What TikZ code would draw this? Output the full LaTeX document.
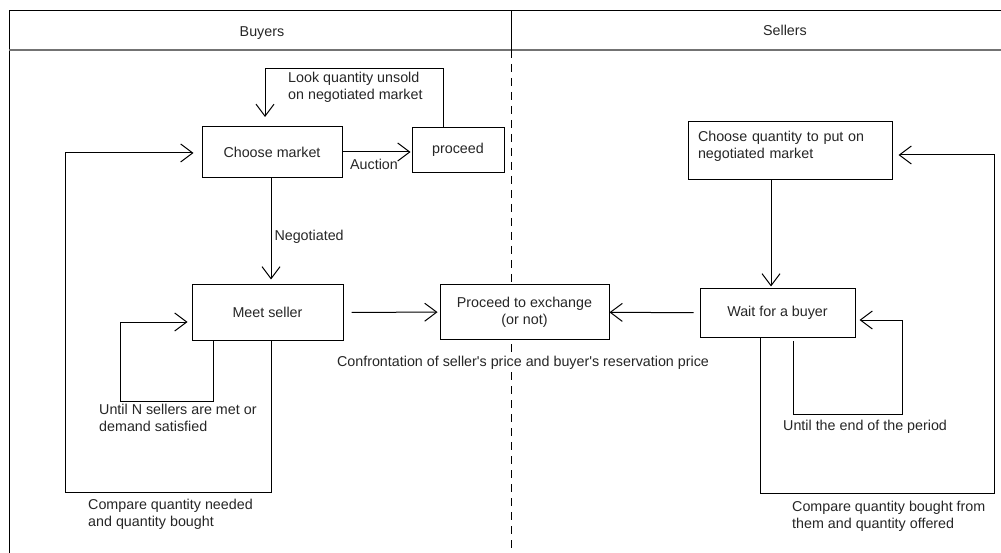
\documentclass[tikz,border=0pt]{standalone}
\usepackage{fontspec}
\setmainfont{Liberation Sans}
\usetikzlibrary{arrows.meta, positioning}

\begin{document}
\begin{tikzpicture}[
        x=1pt, y=-1pt,
        every node/.style={font=\fontsize{14.3}{17}\selectfont, text=black!85},
        box/.style={draw, fill=white, line width=1pt, inner sep=0pt, align=center},
        lbl/.style={anchor=west, align=left, inner sep=0pt},
        arr/.style={-{Straight Barb[length=12pt, width=18pt]}, line width=1pt}
    ]
    \useasboundingbox (0,0) rectangle (1001,553);

    % Frame
    \coordinate (tl) at (9,11);
    \coordinate (tr) at (1001,11);
    \coordinate (ml) at (9,50);
    \coordinate (mr) at (1001,50);
    \coordinate (bl) at (9,553);
    \coordinate (dtop) at (511,11);
    \coordinate (dmid) at (511,50);
    \coordinate (dbot) at (511,553);
    \draw[line width=1pt] (bl) -- (tl) -- (tr);
    \draw[line width=1.5pt, black!55] (ml) -- (mr);
    \draw[line width=1pt] (dtop) -- (dmid);
    \draw[line width=1pt, dash pattern=on 8pt off 6pt] (dmid) -- (dbot);
    \node (buyers) at (262,33) {Buyers};
    \node (sellers) at (785,30) {Sellers};

    % Nodes
    \node[box, minimum width=140, minimum height=51] (market) at (272,152) {Choose market};
    \node[box, minimum width=92, minimum height=45] (proceed) at (458,150) {proceed};
    \node[box, minimum width=151, minimum height=55] (meet) at (267.5,312.5) {Meet seller};
    \node[box, minimum width=169, minimum height=54] (exchange) at (524.5,312) {Proceed to exchange\\(or not)};
    \node[box, minimum width=155, minimum height=48] (wait) at (777.5,313) {Wait for a buyer};
    \node[box, minimum width=204, minimum height=58, text width=184, text depth=30pt, align=left] (qty) at (790,151) {Choose quantity to put on\\negotiated market};

    % Arrows
    \coordinate (auc) at (0,152);
    \coordinate (neg) at (271,0);
    \draw[arr, shorten >=1pt] (market.east |- auc) -- (proceed.west |- auc) node[midway, below=7pt, xshift=-3pt, inner sep=0pt] (auction) {Auction};
    \draw[arr, shorten >=5pt] (market.south -| neg) -- (meet.north -| neg) node[midway, right=3pt, yshift=-6pt, inner sep=0pt] (negot) {Negotiated};
    \draw[arr, shorten <=8pt, shorten >=2pt] (meet) -- (exchange);
    \draw[arr, shorten <=6pt] (wait) -- (exchange);
    \draw[arr, shorten >=2pt] (qty.south -| 771,0) -- (wait.north -| 771,0);
    \node[fill=white, inner sep=1pt] (confront) at (523,363) {Confrontation of seller\textquotesingle s price and buyer\textquotesingle s reservation price};

    % Buyers loops
    \coordinate (lookA) at (443,69);
    \coordinate (lookB) at (265,69);
    \draw[arr, shorten >=9pt] (proceed.north -| lookA) -- (lookA) -- (lookB) -- (lookB |- market.north);
    \node[lbl] (look) at (288,87) {Look quantity unsold\\on negotiated market};

    \coordinate (inA) at (213,401);
    \coordinate (inB) at (120,401);
    \coordinate (inC) at (120,322);
    \draw[arr, shorten >=4pt] (meet.south -| inA) -- (inA) -- (inB) -- (inC) -- (meet.west |- inC);
    \node[lbl] (untilN) at (99,418) {Until N sellers are met or\\demand satisfied};

    \coordinate (outA) at (271,492);
    \coordinate (outB) at (65,492);
    \coordinate (outC) at (65,153);
    \draw[arr, shorten >=8pt] (meet.south -| outA) -- (outA) -- (outB) -- (outC) -- (market.west |- outC);
    \node[lbl] (cmpB) at (88,514) {Compare quantity needed\\and quantity bought};

    % Sellers loops
    \coordinate (swA) at (793,341);
    \coordinate (swB) at (793,414);
    \coordinate (swC) at (902,414);
    \coordinate (swD) at (902,320);
    \draw[arr, shorten >=4pt] (swA) -- (swB) -- (swC) -- (swD) -- (wait.east |- swD);
    \node[lbl] (untilE) at (783,427) {Until the end of the period};

    \coordinate (soA) at (760,493);
    \coordinate (soB) at (994,493);
    \coordinate (soC) at (994,155);
    \draw[arr, shorten >=6pt] (wait.south -| soA) -- (soA) -- (soB) -- (soC) -- (qty.east |- soC);
    \node[lbl] (cmpS) at (792,516) {Compare quantity bought from\\them and quantity offered};

\end{tikzpicture}
\end{document}
